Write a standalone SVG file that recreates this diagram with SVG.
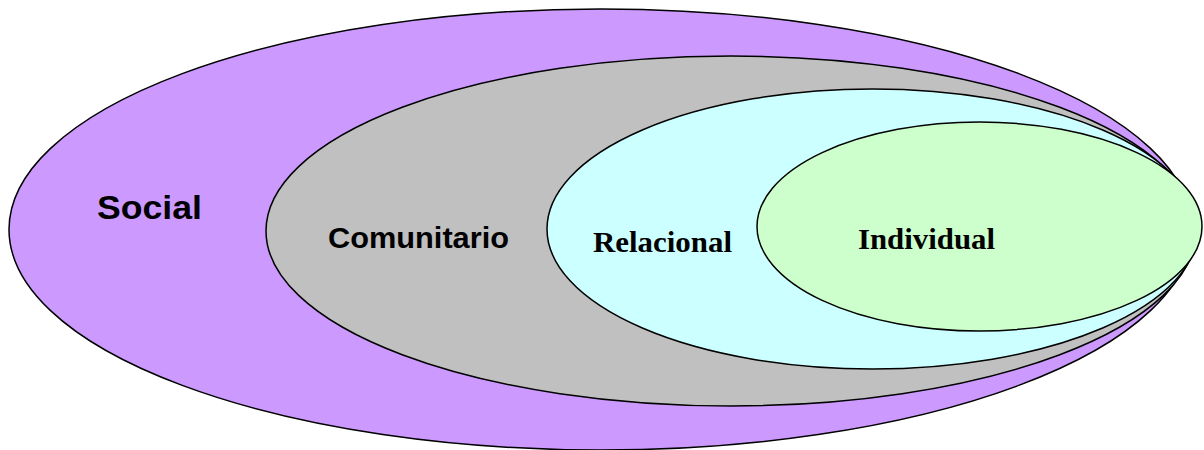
<svg xmlns="http://www.w3.org/2000/svg" width="1204" height="450" viewBox="0 0 1204 450">
<style>
.ring{stroke:#000;stroke-width:1.5}
.sans{font-family:"Liberation Sans",Arial,sans-serif;font-weight:bold;fill:#000}
.serif{font-family:"Liberation Serif","Times New Roman",serif;font-weight:bold;fill:#000}
</style>
<rect width="1204" height="450" fill="#fff"/>
<g id="social">
<ellipse class="ring" cx="600.5" cy="229.5" rx="591.5" ry="220.5" fill="#CC99FF"/>
<text class="sans" x="97" y="219" font-size="34" textLength="105" lengthAdjust="spacingAndGlyphs">Social</text>
</g>
<g id="comunitario">
<ellipse class="ring" cx="731" cy="231" rx="465" ry="175" fill="#C0C0C0"/>
<text class="sans" x="328" y="248" font-size="29" textLength="181" lengthAdjust="spacingAndGlyphs">Comunitario</text>
</g>
<g id="relacional">
<ellipse class="ring" cx="872.5" cy="229" rx="325.5" ry="140" fill="#CCFFFF"/>
<text class="serif" x="593" y="252" font-size="30" textLength="139" lengthAdjust="spacingAndGlyphs">Relacional</text>
</g>
<g id="individual">
<ellipse class="ring" cx="979.5" cy="226.5" rx="222.5" ry="104.5" fill="#CCFFCC"/>
<text class="serif" x="858" y="249" font-size="30" textLength="137" lengthAdjust="spacingAndGlyphs">Individual</text>
</g>
<g id="connectors"></g>
</svg>
